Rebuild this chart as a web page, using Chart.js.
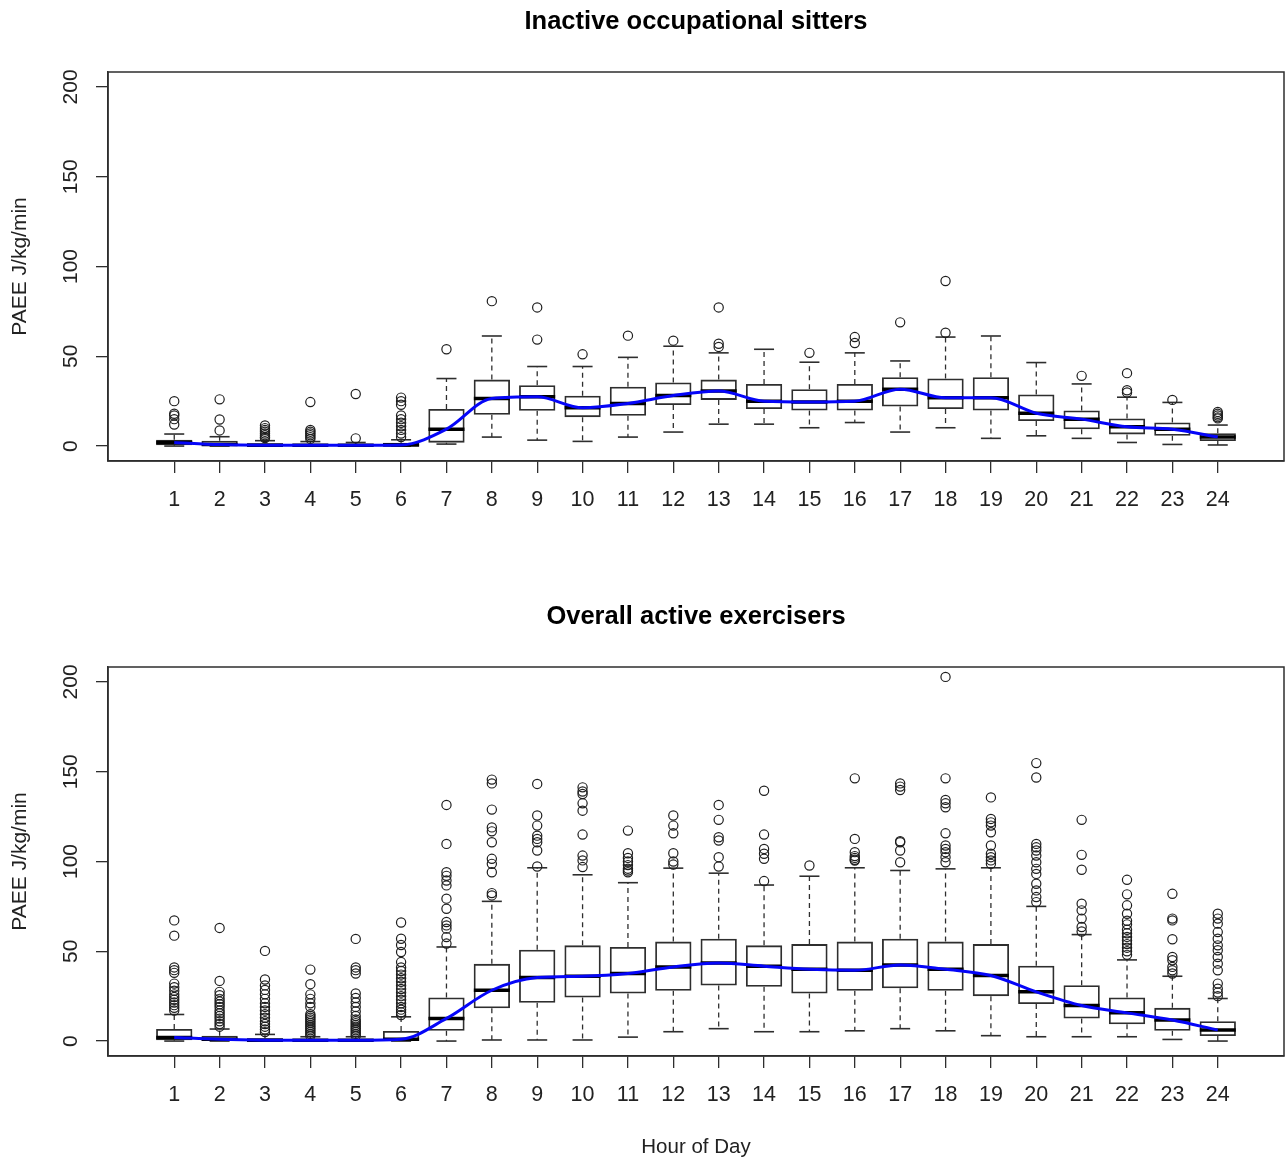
<!DOCTYPE html>
<html><head><meta charset="utf-8">
<script src="https://cdn.jsdelivr.net/npm/chart.js@4"></script>
<style>
html,body{margin:0;padding:0;background:#fff;overflow:hidden;}
canvas{display:block;}
</style></head><body>
<canvas id="c1" width="1286" height="595"></canvas>
<canvas id="c2" width="1286" height="565"></canvas>
<script>
// ---------- shared axis data ----------
const hours = [1,2,3,4,5,6,7,8,9,10,11,12,13,14,15,16,17,18,19,20,21,22,23,24];
const hourLabels = hours.map(h => String(h));
const yTicks = [0, 50, 100, 150, 200];
const yLabel = 'PAEE J/kg/min';
const xLabel = 'Hour of Day';

// ---------- panel 1: Inactive occupational sitters ----------
const title1 = 'Inactive occupational sitters';
const inactLow    = [0,0,0,0,0,0,1.1,5,3.3,2.6,5,7.8,12.2,12.2,10.2,13.1,7.8,10.2,4.3,5.7,4.3,2,0.9,0.6];
const inactQ1     = [0.5,0.3,0.1,0.1,0.1,0.1,1.9,17.4,19.6,16.1,16.9,22.8,25.7,20.6,19.8,19.8,22,20.6,19.8,13.9,9.4,6.5,5.7,2.8];
const inactMedian = [2,0.8,0.5,0.5,0.4,0.6,9.4,26.5,27.4,21.3,23.7,28.1,30.7,25,24.6,25,31.7,26.9,26.9,18.3,15,10.7,9.4,5];
const inactQ3     = [3.5,3,1.5,1.2,1,1.8,20.7,37,33.9,28,33.1,35.4,37,34.6,31.7,34.6,38.3,37.6,38.3,28.7,19.8,15.4,13.1,7.2];
const inactHigh   = [6.7,5.2,3,2.5,2,3.5,37.6,61.3,44.3,44.3,49.4,55.6,51.9,53.9,46.7,51.9,47.4,60.7,61.3,46.5,34.6,27.2,24.3,11.7];
const inactOutliers = [
  [25,18,17,15,12],
  [26,14.8,8.7],
  [11.5,10,9,8,7,6,5,4.5],
  [24.5,9,8,7,6,5,4],
  [29,4.3],
  [27,25,23,17,15,13,11,9,7,5],
  [53.9],
  [80.7],
  [77.2,59.3],
  [51.1],
  [61.5],
  [58.7],
  [77.2,57,55.2],
  [],
  [51.9],
  [60.7,57.4],
  [68.9],
  [91.9,63.1],
  [],
  [],
  [39.1],
  [40.6,31.1,29.8],
  [25.7],
  [19,18,17,16,15.4]
];

// ---------- panel 2: Overall active exercisers ----------
const title2 = 'Overall active exercisers';
const actLow    = [0,0,0,0,0,0,0,0.6,0.6,0.6,2.2,5.2,6.9,5.2,5.2,5.7,6.9,5.7,3,2.4,2.4,2.4,0.9,0];
const actQ1     = [0.5,0.2,0.1,0.1,0.1,0.2,5.7,18.3,21.3,24.3,26.5,28,30.9,30.2,26.5,28,29.4,28,25,20.6,12.6,9.4,5.7,2.8];
const actMedian = [2,1,0.5,0.4,0.4,1,12.6,28.3,35.4,36.1,37.6,41.3,43.5,41.7,40,39.4,42.4,40,36.5,27.4,19.8,15.7,11.7,6.1];
const actQ3     = [6.7,3,1.5,1,1,5.6,24.3,43,50.9,53.3,52.4,55.4,57,53.3,54,55.4,57,55.4,54,42,31.1,24.3,18.5,11.1];
const actHigh   = [14.8,6.7,3.7,2.4,2.4,13.5,52.4,77.8,96.5,92.6,88.2,96.3,93.5,86.9,91.8,96.5,95,95.9,96.5,75,59.3,45.2,36.1,23.7];
const actOutliers = [
  [67.2,58.7,41,39.5,38,32,30,28,26,24.5,23,21.5,20,18.5,17],
  [63,33.5,27.4,25.5,23.5,22,20.5,19,17,15.5,14,12.5,11,9.5,8],
  [50.2,34.3,31,28.5,26,23.5,21,19,17,15,13,11,9.5,8,6.5,5],
  [39.8,31.7,26,23.5,21,19,15,14,13,12,11,10,9,8,7,6,5,4,3],
  [56.9,41,39.5,37.6,26.5,24,21.5,19,16.5,14,12,11,10,9,8,7,6,5,4,3],
  [66,57,53.5,49.6,44,41,39,37,35,33,31,29,27,25,23,21,19,17.5,16,14.5],
  [131.5,109.8,94,92,89.4,86.7,79.3,73.7,66.3,64.4,62.6,57.9,54.3],
  [145.6,143.5,128.9,119,116.8,110.7,101.5,98.7,94,82.4,81.1],
  [143.2,125.6,120,114.4,112.6,110.7,106.1,97.2],
  [141.3,139,137.6,132.4,128.3,115,103.3,100.6,96.9],
  [117.2,104.6,102,100,98,96,95,94],
  [125.6,120,115.7,104.6,100,98.3],
  [131.5,123.2,113.5,111.7,102.4,97.2],
  [139.4,115,107,104.3,101.5,89.1],
  [97.8],
  [146.3,112.6,105.2,103,102,101,100.5],
  [143.5,141.7,139.8,111.3,110.7,106.1,99.6],
  [202.8,146.3,134.3,132.4,130.2,115.7,108.9,107,105.2,102.4,99.6],
  [135.7,123.7,121.8,120,116.3,108.9,104.3,102.4,100.6,98.7],
  [154.8,146.8,109.8,107.9,106.1,103.3,99.6,95.9,93.1,87.6,83.9,80.2,77.4],
  [123.2,103.7,95.4,76.5,72.8,68.2,63.5,61],
  [89.8,81.7,75.6,70.9,67,65,62,60,58,56,54,52,50,48],
  [82,68.2,67.2,56.7,46.8,45,41.3,39.4,37.6],
  [70.9,68.2,65.4,60.7,57,53.3,50.6,46.8,43.1,39.4,32,29.2,27,25]
];

// ---------- rendering ----------
const SANS = "'Liberation Sans', Arial, sans-serif";
const AXIS_COLOR = '#2e2e2e';

const framePlugin = {
  id: 'rframe',
  afterDraw(chart, args, opts) {
    const {ctx, chartArea: a} = chart;
    const ys = chart.scales.y;
    ctx.save();
    ctx.strokeStyle = AXIS_COLOR;
    ctx.lineWidth = 1.5;
    ctx.strokeRect(a.left, a.top, a.right - a.left, a.bottom - a.top);
    // rotated y tick labels (R style, las = 0)
    ctx.fillStyle = '#222';
    ctx.font = "21px " + SANS;
    ctx.textAlign = 'center';
    ctx.textBaseline = 'middle';
    yTicks.forEach(v => {
      const py = ys.getPixelForValue(v);
      ctx.save();
      ctx.translate(71, py);
      ctx.rotate(-Math.PI / 2);
      ctx.fillText(String(v), 0, 0);
      ctx.restore();
    });
    // main title centred on plot region
    ctx.fillStyle = '#000';
    ctx.font = "bold 25.5px " + SANS;
    ctx.textBaseline = 'middle';
    ctx.fillText(opts.text, (a.left + a.right) / 2, 22);
    ctx.restore();
  }
};

function makeChart(id, titleText, lo, q1, med, q3, hi, outliers, showXTitle, canvasH) {
  const whiskerData = [];
  hours.forEach((h, i) => {
    whiskerData.push({x: h, y: q3[i]}, {x: h, y: hi[i]}, {x: h, y: null});
    whiskerData.push({x: h, y: q1[i]}, {x: h, y: lo[i]}, {x: h, y: null});
  });
  const capData = [];
  hours.forEach((h, i) => { capData.push({x: h, y: lo[i]}, {x: h, y: hi[i]}); });
  const outData = [];
  hours.forEach((h, i) => outliers[i].forEach(v => outData.push({x: h, y: v})));

  return new Chart(document.getElementById(id), {
    type: 'bar',
    data: {
      datasets: [
        {
          type: 'line', label: 'whiskers', data: whiskerData, order: 5,
          borderColor: AXIS_COLOR, borderWidth: 1.3, borderDash: [5, 4],
          pointRadius: 0, spanGaps: false, tension: 0, fill: false
        },
        {
          type: 'bar', label: 'boxes', order: 4,
          data: hours.map((h, i) => ({x: h, y: [q1[i], q3[i]]})),
          backgroundColor: 'rgba(255,255,255,0)', borderColor: AXIS_COLOR,
          borderWidth: 1.8, borderSkipped: false,
          categoryPercentage: 1.0, barPercentage: 0.8
        },
        {
          type: 'scatter', label: 'caps', data: capData, order: 3,
          pointStyle: 'line', pointRadius: 10, pointBorderWidth: 1.6,
          pointBorderColor: AXIS_COLOR
        },
        {
          type: 'scatter', label: 'medians', order: 2,
          data: hours.map((h, i) => ({x: h, y: med[i]})),
          pointStyle: 'line', pointRadius: 18, pointBorderWidth: 3.5,
          pointBorderColor: '#000'
        },
        {
          type: 'scatter', label: 'outliers', data: outData, order: 1,
          pointStyle: 'circle', pointRadius: 4.6, pointBorderWidth: 1.2,
          pointBorderColor: '#1e1e1e', pointBackgroundColor: 'rgba(255,255,255,0)'
        },
        {
          type: 'line', label: 'median trend', order: 0,
          data: hours.map((h, i) => ({x: h, y: med[i]})),
          borderColor: '#0505f8', borderWidth: 3, pointRadius: 0,
          cubicInterpolationMode: 'monotone', fill: false
        }
      ]
    },
    options: {
      responsive: false,
      animation: false,
      events: [],
      layout: {autoPadding: false, padding: {left: 0, right: 2, top: 72, bottom: 0}},
      plugins: {
        legend: {display: false},
        title: {display: false},
        tooltip: {enabled: false},
        rframe: {text: titleText}
      },
      scales: {
        x: {
          type: 'linear', min: -0.46, max: 25.46, offset: false,
          afterBuildTicks: s => { s.ticks = hours.map(v => ({value: v})); },
          afterFit: s => { s.height = canvasH - 461; s.paddingLeft = 0; s.paddingRight = 0; },
          ticks: {
            autoSkip: false, maxRotation: 0, minRotation: 0, padding: 14,
            color: '#222', font: {family: SANS, size: 21.5},
            callback: v => hourLabels[hours.indexOf(v)]
          },
          grid: {offset: false, drawOnChartArea: false, drawTicks: true, tickLength: 12, color: AXIS_COLOR, lineWidth: 1.3},
          border: {display: true, color: AXIS_COLOR, width: 1.5},
          title: {display: showXTitle, text: xLabel, color: '#222',
                  font: {family: SANS, size: 20.5}, padding: {top: 0, bottom: 0}}
        },
        y: {
          type: 'linear', min: -8.32, max: 208.32,
          afterBuildTicks: s => { s.ticks = yTicks.map(v => ({value: v})); },
          afterFit: s => { s.width = 108; },
          ticks: {display: false},
          grid: {drawOnChartArea: false, drawTicks: true, tickLength: 12, color: AXIS_COLOR, lineWidth: 1.3},
          border: {display: true, color: AXIS_COLOR, width: 1.5},
          title: {display: true, text: yLabel, color: '#222',
                  font: {family: SANS, size: 21}, padding: {top: 8, bottom: 0}}
        }
      }
    },
    plugins: [framePlugin]
  });
}

makeChart('c1', title1, inactLow, inactQ1, inactMedian, inactQ3, inactHigh, inactOutliers, false, 595);
makeChart('c2', title2, actLow, actQ1, actMedian, actQ3, actHigh, actOutliers, true, 565);
</script>
</body></html>
